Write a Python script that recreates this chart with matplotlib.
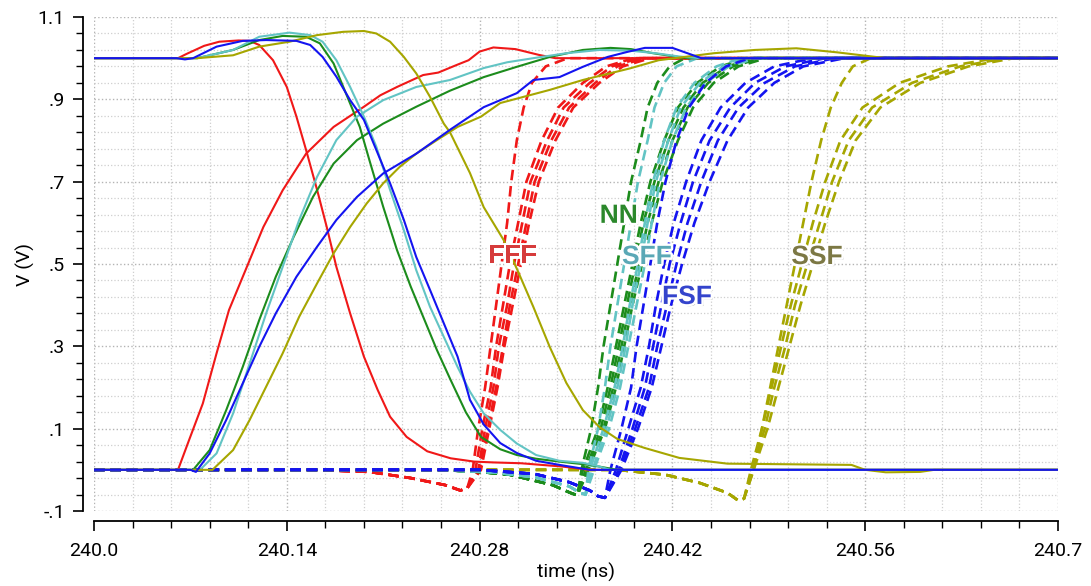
import matplotlib.pyplot as plt
import matplotlib.patheffects as pe
import numpy as np

# voltage levels shared by all rising dashed edges
edge_levels = [0.0, 0.1, 0.2, 0.3, 0.4, 0.5, 0.6, 0.7, 0.8, 0.88, 0.94, 0.98, 1.0]

# ---- FFF (red) ----
fff_fall_t = [240.0, 240.061, 240.067, 240.08, 240.091, 240.105, 240.113, 240.12, 240.13, 240.14, 240.147,
              240.154, 240.162, 240.169, 240.176, 240.186, 240.196, 240.206, 240.215, 240.227, 240.242,
              240.259, 240.276, 240.29, 240.31, 240.34, 240.36, 240.7]
fff_fall_v = [1.0, 1.0, 1.01, 1.03, 1.04, 1.043, 1.042, 1.032, 0.995, 0.93, 0.858,
              0.777, 0.68, 0.59, 0.493, 0.38, 0.275, 0.194, 0.129, 0.08, 0.045,
              0.028, 0.02, 0.018, 0.016, 0.008, 0.0, 0.0]
fff_rise_t = [240.0, 240.061, 240.069, 240.079, 240.089, 240.098, 240.111, 240.123, 240.137, 240.154,
              240.174, 240.196, 240.208, 240.220, 240.239, 240.25, 240.263, 240.272, 240.28, 240.29,
              240.306, 240.323, 240.335, 240.7]
fff_rise_v = [0.0, 0.0, 0.072, 0.161, 0.283, 0.388, 0.493, 0.59, 0.679, 0.768,
              0.833, 0.882, 0.91, 0.93, 0.959, 0.965, 0.983, 0.995, 1.016, 1.026,
              1.022, 1.008, 1.0, 1.0]
fff_pre_t = [240.0, 240.16, 240.20, 240.23, 240.255, 240.266, 240.271]
fff_pre_v = [0.0, 0.0, -0.005, -0.02, -0.037, -0.05, -0.045]
fff_lead = [240.275, 240.279, 240.284, 240.288, 240.292, 240.296, 240.300, 240.303, 240.307, 240.312, 240.318, 240.328, 240.344]
fff_a = [240.277, 240.282, 240.288, 240.292, 240.297, 240.302, 240.308, 240.314, 240.325, 240.337, 240.355, 240.372, 240.392]
fff_b = [240.279, 240.284, 240.290, 240.294, 240.300, 240.305, 240.311, 240.317, 240.329, 240.341, 240.360, 240.376, 240.396]
fff_c = [240.280, 240.286, 240.292, 240.297, 240.302, 240.308, 240.314, 240.320, 240.332, 240.345, 240.364, 240.380, 240.400]
fff_d = [240.281, 240.287, 240.293, 240.298, 240.304, 240.310, 240.316, 240.323, 240.335, 240.348, 240.367, 240.384, 240.404]

# ---- NN (green) ----
nn_fall_t = [240.0, 240.075, 240.101, 240.12, 240.137, 240.154, 240.164, 240.174, 240.183, 240.193, 240.2,
             240.21, 240.22, 240.23, 240.239, 240.249, 240.259, 240.27, 240.281, 240.295, 240.307,
             240.321, 240.338, 240.36, 240.38, 240.7]
nn_fall_v = [1.0, 1.0, 1.02, 1.044, 1.054, 1.052, 1.036, 0.987, 0.914, 0.833, 0.752,
             0.639, 0.534, 0.445, 0.372, 0.291, 0.218, 0.14, 0.08, 0.05, 0.036,
             0.027, 0.02, 0.012, 0.0, 0.0]
nn_rise_t = [240.0, 240.072, 240.084, 240.096, 240.108, 240.12, 240.132, 240.145, 240.159, 240.174, 240.191,
             240.21, 240.234, 240.2585, 240.283, 240.307, 240.331, 240.355, 240.375, 240.39, 240.406,
             240.43, 240.7]
nn_rise_v = [0.0, 0.0, 0.048, 0.145, 0.25, 0.364, 0.469, 0.566, 0.663, 0.744, 0.801,
             0.841, 0.882, 0.921, 0.954, 0.979, 1.003, 1.02, 1.025, 1.022, 1.012,
             1.0, 1.0]
nn_pre_t = [240.0, 240.25, 240.28, 240.302, 240.333, 240.346, 240.351]
nn_pre_v = [0.0, 0.0, -0.005, -0.012, -0.037, -0.056, -0.062]
nn_lead = [240.354, 240.361, 240.366, 240.370, 240.375, 240.380, 240.385, 240.390, 240.397, 240.402, 240.409, 240.418, 240.429]
nn_a = [240.355, 240.366, 240.373, 240.379, 240.385, 240.391, 240.397, 240.404, 240.414, 240.424, 240.438, 240.455, 240.474]
nn_b = [240.357, 240.368, 240.375, 240.381, 240.387, 240.393, 240.399, 240.407, 240.417, 240.428, 240.442, 240.460, 240.480]
nn_c = [240.358, 240.370, 240.377, 240.383, 240.389, 240.396, 240.402, 240.410, 240.420, 240.431, 240.446, 240.464, 240.484]
nn_d = [240.359, 240.371, 240.379, 240.385, 240.391, 240.398, 240.405, 240.413, 240.424, 240.435, 240.450, 240.468, 240.488]

# ---- SFF (cyan) ----
sff_fall_t = [240.0, 240.075, 240.101, 240.12, 240.142, 240.157, 240.166, 240.176, 240.186, 240.196, 240.205,
              240.215, 240.225, 240.234, 240.244, 240.254, 240.264, 240.273, 240.283, 240.295, 240.307,
              240.321, 240.338, 240.355, 240.365, 240.375, 240.7]
sff_fall_v = [1.0, 1.0, 1.02, 1.052, 1.062, 1.056, 1.04, 0.995, 0.93, 0.858, 0.785,
              0.68, 0.582, 0.485, 0.396, 0.323, 0.25, 0.19, 0.137, 0.097, 0.064,
              0.036, 0.022, 0.017, 0.01, 0.0, 0.0]
sff_rise_t = [240.0, 240.077, 240.089, 240.101, 240.113, 240.125, 240.137, 240.149, 240.162, 240.176, 240.191,
              240.21, 240.234, 240.2585, 240.283, 240.30, 240.319, 240.343, 240.367, 240.39, 240.408,
              240.425, 240.44, 240.7]
sff_rise_v = [0.0, 0.0, 0.04, 0.137, 0.258, 0.38, 0.493, 0.607, 0.712, 0.801, 0.858,
              0.898, 0.93, 0.947, 0.976, 0.99, 1.0, 1.012, 1.02, 1.018, 1.012,
              1.004, 1.0, 1.0]
sff_pre_t = [240.0, 240.25, 240.29, 240.32, 240.345, 240.353, 240.357]
sff_pre_v = [0.0, 0.0, -0.006, -0.018, -0.04, -0.056, -0.06]
sff_lead = [240.359, 240.366, 240.371, 240.375, 240.380, 240.385, 240.390, 240.395, 240.402, 240.407, 240.414, 240.423, 240.438]
sff_a = [240.360, 240.370, 240.378, 240.384, 240.389, 240.395, 240.400, 240.406, 240.414, 240.423, 240.436, 240.452, 240.470]
sff_b = [240.362, 240.372, 240.380, 240.386, 240.391, 240.397, 240.402, 240.408, 240.417, 240.426, 240.440, 240.457, 240.476]
sff_c = [240.363, 240.374, 240.382, 240.388, 240.394, 240.400, 240.405, 240.411, 240.420, 240.430, 240.444, 240.461, 240.481]

# ---- FSF (blue) ----
fsf_fall_t = [240.0, 240.06, 240.066, 240.072, 240.089, 240.108, 240.125, 240.147, 240.157, 240.166, 240.176,
              240.186, 240.196, 240.205, 240.215, 240.225, 240.234, 240.244, 240.254, 240.264, 240.273,
              240.283, 240.295, 240.307, 240.321, 240.338, 240.36, 240.7]
fsf_fall_v = [1.0, 1.0, 0.997, 1.0, 1.028, 1.042, 1.044, 1.042, 1.032, 1.003, 0.955,
              0.898, 0.85, 0.777, 0.696, 0.607, 0.517, 0.437, 0.356, 0.275, 0.17,
              0.11, 0.065, 0.041, 0.022, 0.012, 0.0, 0.0]
fsf_rise_t = [240.0, 240.07, 240.074, 240.084, 240.096, 240.108, 240.12, 240.132, 240.147, 240.162, 240.176,
              240.191, 240.21, 240.234, 240.2585, 240.283, 240.307, 240.319, 240.338, 240.355, 240.373,
              240.387, 240.40, 240.42, 240.441, 240.7]
fsf_rise_v = [0.0, 0.0, -0.005, 0.04, 0.121, 0.21, 0.299, 0.38, 0.469, 0.542, 0.607,
              0.663, 0.72, 0.768, 0.826, 0.881, 0.915, 0.947, 0.954, 0.979, 1.003,
              1.015, 1.025, 1.025, 1.0, 1.0]
fsf_pre_t = [240.0, 240.28, 240.32, 240.345, 240.36, 240.366, 240.371]
fsf_pre_v = [0.0, 0.0, -0.01, -0.03, -0.05, -0.064, -0.068]
fsf_lead = [240.375, 240.383, 240.390, 240.394, 240.399, 240.404, 240.409, 240.415, 240.423, 240.432, 240.444, 240.459, 240.476]
fsf_a = [240.379, 240.388, 240.397, 240.403, 240.408, 240.414, 240.421, 240.430, 240.441, 240.455, 240.473, 240.494, 240.522]
fsf_b = [240.381, 240.391, 240.400, 240.406, 240.412, 240.418, 240.426, 240.435, 240.447, 240.462, 240.480, 240.502, 240.531]
fsf_c = [240.382, 240.393, 240.403, 240.409, 240.416, 240.423, 240.431, 240.441, 240.453, 240.468, 240.487, 240.509, 240.538]
fsf_d = [240.383, 240.395, 240.405, 240.412, 240.419, 240.427, 240.436, 240.447, 240.460, 240.475, 240.494, 240.515, 240.545]

# ---- SSF (olive) ----
ssf_fall_t = [240.0, 240.075, 240.101, 240.12, 240.142, 240.162, 240.181, 240.196, 240.205, 240.215, 240.225,
              240.234, 240.244, 240.254, 240.2585, 240.273, 240.283, 240.2975, 240.3075, 240.319, 240.331,
              240.343, 240.355, 240.367, 240.38, 240.4, 240.425, 240.46, 240.55, 240.56, 240.575,
              240.6, 240.61, 240.7]
ssf_fall_v = [1.0, 1.0, 1.007, 1.028, 1.04, 1.056, 1.064, 1.066, 1.06, 1.04, 1.003,
              0.963, 0.906, 0.841, 0.82, 0.721, 0.638, 0.558, 0.485, 0.396, 0.298,
              0.211, 0.145, 0.104, 0.075, 0.053, 0.029, 0.015, 0.012, 0.0, -0.006,
              -0.005, 0.0, 0.0]
ssf_rise_t = [240.0, 240.086, 240.101, 240.113, 240.125, 240.137, 240.149, 240.162, 240.174, 240.186, 240.198,
              240.21, 240.222, 240.234, 240.249, 240.264, 240.281, 240.295, 240.331, 240.355, 240.389,
              240.41, 240.45, 240.48, 240.51, 240.54, 240.575, 240.7]
ssf_rise_v = [0.0, 0.0, 0.048, 0.121, 0.202, 0.283, 0.372, 0.453, 0.526, 0.59, 0.647,
              0.696, 0.736, 0.768, 0.801, 0.833, 0.858, 0.891, 0.923, 0.947, 0.975,
              0.995, 1.012, 1.02, 1.024, 1.014, 1.0, 1.0]
ssf_pre_t = [240.0, 240.38, 240.415, 240.44, 240.46, 240.468, 240.472]
ssf_pre_v = [0.0, 0.0, -0.012, -0.032, -0.056, -0.075, -0.07]
ssf_lead = [240.479, 240.485, 240.491, 240.497, 240.503, 240.509, 240.515, 240.521, 240.528, 240.535, 240.543, 240.551, 240.564]
ssf_a = [240.477, 240.485, 240.492, 240.499, 240.506, 240.514, 240.522, 240.531, 240.542, 240.558, 240.585, 240.620, 240.655]
ssf_b = [240.478, 240.487, 240.494, 240.502, 240.509, 240.518, 240.527, 240.536, 240.548, 240.565, 240.594, 240.629, 240.662]
ssf_c = [240.479, 240.489, 240.497, 240.505, 240.513, 240.522, 240.531, 240.541, 240.553, 240.571, 240.600, 240.635, 240.668]

corners = ["FFF", "NN", "SFF", "SSF", "FSF"]
line_colors = {"FFF": "#f01818", "NN": "#1c8c1c", "SFF": "#62c4c4", "FSF": "#1414f0", "SSF": "#a6a600"}
text_colors = {"FFF": "#d63b3b", "NN": "#2b882b", "SFF": "#5aa8b6", "FSF": "#3444cc", "SSF": "#7c7844"}
label_t = {"FFF": 240.304, "NN": 240.381, "SFF": 240.4015, "FSF": 240.4306, "SSF": 240.525}
label_v = {"FFF": 0.52, "NN": 0.617, "SFF": 0.517, "FSF": 0.42, "SSF": 0.517}

solids = {
    "FFF": [(fff_fall_t, fff_fall_v), (fff_rise_t, fff_rise_v)],
    "NN": [(nn_fall_t, nn_fall_v), (nn_rise_t, nn_rise_v)],
    "SFF": [(sff_fall_t, sff_fall_v), (sff_rise_t, sff_rise_v)],
    "FSF": [(fsf_fall_t, fsf_fall_v), (fsf_rise_t, fsf_rise_v)],
    "SSF": [(ssf_fall_t, ssf_fall_v), (ssf_rise_t, ssf_rise_v)],
}
dashed = {
    "FFF": (fff_pre_t, fff_pre_v, [fff_lead, fff_a, fff_b, fff_c, fff_d]),
    "NN": (nn_pre_t, nn_pre_v, [nn_lead, nn_a, nn_b, nn_c, nn_d]),
    "SFF": (sff_pre_t, sff_pre_v, [sff_lead, sff_a, sff_b, sff_c]),
    "FSF": (fsf_pre_t, fsf_pre_v, [fsf_lead, fsf_a, fsf_b, fsf_c, fsf_d]),
    "SSF": (ssf_pre_t, ssf_pre_v, [ssf_lead, ssf_a, ssf_b, ssf_c]),
}


def dashed_wave(pre_t, pre_v, edge_t):
    # flat start and undershoot, then the rising edge, then hold at 1 V
    n = len([x for x in pre_t if x < edge_t[0] - 0.001])
    return list(pre_t[:n]) + list(edge_t) + [240.7], list(pre_v[:n]) + edge_levels + [1.0]


plt.rcParams['font.family'] = ['Roboto', 'DejaVu Sans']
fig = plt.figure(figsize=(10.91, 5.86), dpi=100)
ax = fig.add_axes([94 / 1091, 75 / 586, 964 / 1091, 494 / 586])

for name in corners:
    pre_t, pre_v, edges = dashed[name]
    for k, edge in enumerate(edges):
        t, v = dashed_wave(pre_t, pre_v, edge)
        ax.plot(t, v, color=line_colors[name], lw=1.9, dashes=(4, 2.2), dash_capstyle='butt', zorder=2)
for name in corners:
    for t, v in solids[name]:
        ax.plot(t, v, color=line_colors[name], lw=1.5, zorder=3)

for name in corners:
    ax.text(label_t[name], label_v[name], name, color=text_colors[name], fontsize=19,
            fontweight='bold', family=['Liberation Sans', 'DejaVu Sans'],
            ha='center', va='center', zorder=5,
            path_effects=[pe.SimplePatchShadow(offset=(1.5, -1.5), shadow_rgbFace='#555555', alpha=0.45),
                          pe.Stroke(linewidth=3.5, foreground='white'), pe.Normal()])

ax.set_xlim(240.0, 240.7)
ax.set_ylim(-0.1, 1.1)
ax.set_xticks([240.0, 240.14, 240.28, 240.42, 240.56, 240.7])
ax.set_xticklabels(["240.0", "240.14", "240.28", "240.42", "240.56", "240.7"])
ax.set_yticks([-0.1, 0.1, 0.3, 0.5, 0.7, 0.9, 1.1])
ax.set_yticklabels(["-.1", ".1", ".3", ".5", ".7", ".9", "1.1"])
ax.set_xticks(np.linspace(240.0, 240.7, 26), minor=True)
ax.set_yticks(np.linspace(-0.1, 1.1, 31), minor=True)

ax.grid(which='major', color='#b4b4b4', linestyle=':', linewidth=1.0)
ax.grid(which='minor', color='#cfcfcf', linestyle=':', linewidth=0.9)
ax.set_axisbelow(True)

for side in ['top', 'right']:
    ax.spines[side].set_visible(False)
ax.spines['left'].set_position(('outward', 8))
ax.spines['bottom'].set_position(('outward', 7))
ax.spines['left'].set_linewidth(1.3)
ax.spines['bottom'].set_linewidth(1.3)
ax.tick_params(which='major', direction='out', length=7, width=1.2, labelsize=14, colors='black')
ax.tick_params(which='minor', direction='out', length=5, width=1.0)
ax.tick_params(axis='y', pad=6)
ax.tick_params(axis='x', pad=8)

ax.set_xlabel("time (ns)", fontsize=14, labelpad=2)
ax.set_ylabel("V (V)", fontsize=14, labelpad=2)

fig.savefig("out.png", dpi=100)
